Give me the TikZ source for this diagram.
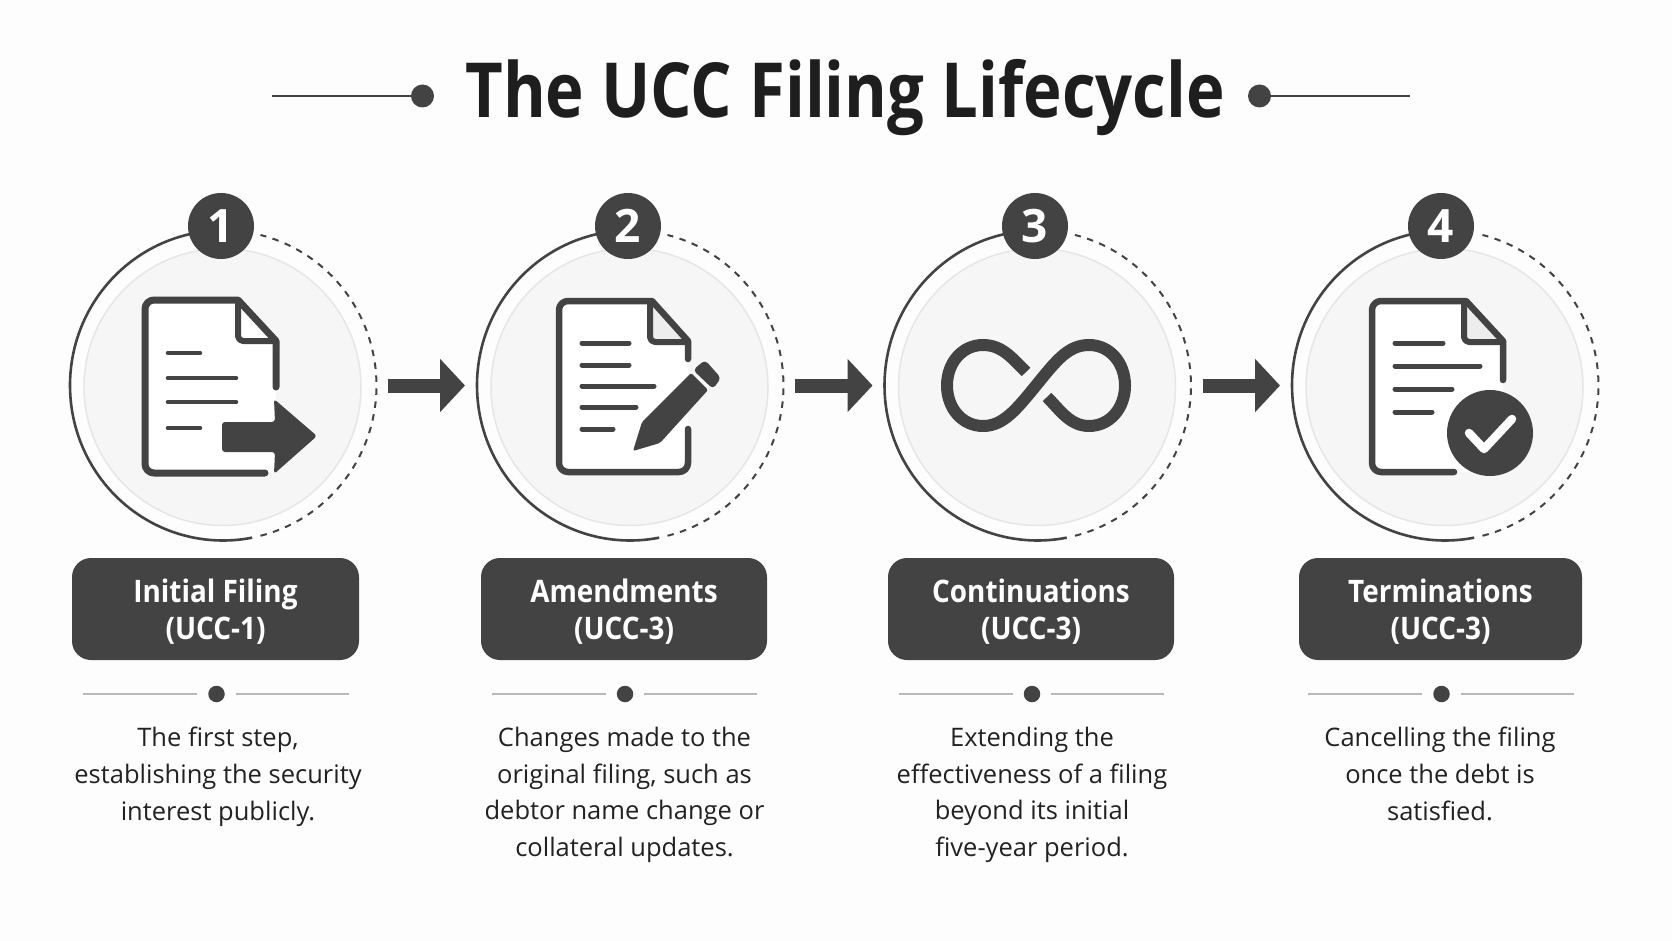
\documentclass[tikz,border=0pt]{standalone}
\usepackage{fontspec}
\setmainfont{Open Sans}
\newfontfamily\titlefont[FakeStretch=0.858]{Open Sans}
\newfontfamily\headfont[FakeStretch=0.9]{Open Sans}
\usepackage{tikz}
\usetikzlibrary{arrows.meta,shapes.geometric}
\definecolor{inkdark}{HTML}{434343}
\definecolor{inktitle}{HTML}{1E1E1E}
\definecolor{inkbody}{HTML}{222222}
\definecolor{pagebg}{HTML}{FDFDFD}
\definecolor{discfill}{HTML}{F6F6F6}
\definecolor{discedge}{HTML}{E6E6E6}
\definecolor{foldfill}{HTML}{EDEDED}
\definecolor{rulegray}{HTML}{B8B8B8}
\tikzstyle{ringnode}=[ellipse,inner sep=0pt,outer sep=0pt,minimum width=306pt,minimum height=310pt]
\tikzstyle{disc}=[circle,fill=discfill,draw=discedge,line width=1.5pt,inner sep=0pt,minimum size=277pt]
\tikzstyle{badge}=[circle,fill=inkdark,text=white,inner sep=0pt,minimum size=66pt,font=\fontsize{46}{46}\selectfont\bfseries]
\tikzstyle{labelbox}=[rectangle,rounded corners=19pt,fill=inkdark,inner sep=0pt,minimum height=102pt]
\tikzstyle{labeltext}=[text=white,align=center,inner sep=0pt,font=\fontsize{31}{37}\selectfont\headfont\bfseries]
\tikzstyle{descr}=[anchor=north,align=center,inner sep=0pt,text=inkbody,font=\fontsize{25.5}{36.7}\selectfont]
\tikzstyle{ruledot}=[circle,fill=inkdark,inner sep=0pt,minimum size=16.5pt]
\tikzstyle{titledot}=[circle,fill=inkdark,inner sep=0pt,minimum size=23pt]
\tikzstyle{solidarc}=[draw=inkdark,line width=2.6pt]
\tikzstyle{dashedarc}=[draw=inkdark,line width=2pt,dash pattern=on 6.5pt off 6.5pt]
\tikzstyle{edge}=[draw=inkdark,line width=14pt,-{Triangle[length=25pt,width=52pt]},shorten <=12pt,shorten >=12pt]
\tikzstyle{rule}=[draw=rulegray,line width=1.8pt,shorten <=11pt]
\tikzstyle{docline}=[draw=inkdark,line width=6.5pt,line cap=round,line join=round]
\tikzstyle{textline}=[draw=inkdark,line width=4.6pt,line cap=round]
\begin{document}
\begin{tikzpicture}[x=1pt,y=-1pt]
    \path[use as bounding box,fill=pagebg] (0,0) rectangle (1672,941);

    % Title with its two side rules
    \node[inner sep=0pt,text=inktitle,font=\fontsize{76}{76}\selectfont\titlefont\bfseries] (title) at (845,97.5) {The UCC Filing Lifecycle};
    \node[titledot] (tdotL) at (422.5,96) {};
    \node[titledot] (tdotR) at (1259.5,96) {};
    \coordinate (tendL) at (272,96);
    \coordinate (tendR) at (1410,96);
    \draw[draw=inkdark,line width=2pt] (tdotL) -- (tendL);
    \draw[draw=inkdark,line width=2pt] (tdotR) -- (tendR);

    % First the rings, discs and number badges
    \foreach \cx/\bx/\name/\num in {{223/221/a/1}, {630/628/b/2}, {1037.5/1035/c/3}, {1445/1441/d/4}} {
        \node[ringnode] (ring\name) at (\cx,385.5) {};
        \node[disc] (disc\name) at (\cx-0.5,387) {};
        \draw[solidarc] (ring\name.north) arc[start angle=-90,end angle=-281,x radius=153,y radius=155];
        \draw[dashedarc] (ring\name.-76) arc[start angle=76,end angle=-76,x radius=153,y radius=155];
        \node[badge] (badge\name) at (\bx,226) {\num};
    }

    % Connect the rings
    \foreach \source/\dest in {a/b, b/c, c/d}
        \path[edge] (ring\source) -- (ring\dest);

    % Label boxes, small rules and the texts below them
    \foreach \tx/\dx/\boxw/\name/\head/\body in {
        {215.5/218/287/a/{Initial Filing\\(UCC-1)}/{The first step,\\establishing the security\\interest publicly.}},
        {624/624.5/286/b/{Amendments\\(UCC-3)}/{Changes made to the\\original filing, such as\\debtor name change or\\collateral updates.}},
        {1031/1032/286/c/{Continuations\\(UCC-3)}/{Extending the\\effectiveness of a filing\\beyond its initial\\five-year period.}},
        {1440.5/1440/283/d/{Terminations\\(UCC-3)}/{Cancelling the filing\\once the debt is\\satisfied.}}} {
        \node[labelbox,minimum width=\boxw pt] (box\name) at (\tx,609) {};
        \node[labeltext] (head\name) at (\tx,612) {\head};
        \node[ruledot] (rdot\name) at (\tx+1,694) {};
        \coordinate (rendL\name) at (\tx-132.5,694);
        \coordinate (rendR\name) at (\tx+133,694);
        \path[rule] (rdot\name) -- (rendL\name);
        \path[rule] (rdot\name) -- (rendR\name);
        \node[descr] (text\name) at (\dx,727) {\body};
    }

    % Icon 1: page with arrow
    \fill[white] (145,300) -- (238,300) -- (276,341) -- (276,473) -- (145,473) -- cycle;
    \draw[docline,line width=7pt] (276,387) -- (276,341) -- (238,300) [rounded corners=9pt] -- (145,300) -- (145,473) [sharp corners] -- (265,473);
    \draw[docline,line width=6pt,rounded corners=5pt] (238,302) -- (238,341) -- (276,341);
    \foreach \ly/\lx in {353/200, 378/236, 402/236, 428/200}
        \draw[textline] (168,\ly) -- (\lx,\ly);
    \fill[inkdark,rounded corners=3pt] (222,422) -- (275,422) -- (274,399) -- (317,436) -- (274,474) -- (275,452) -- (222,452) -- cycle;

    % Icon 2: page with pencil
    \fill[white] (559,301) -- (650,301) -- (688,341) -- (688,472) -- (559,472) -- cycle;
    \fill[foldfill] (650,305) -- (650,342) -- (684,342) -- cycle;
    \draw[docline] (688,359) -- (688,341) -- (652,301) [rounded corners=9pt] -- (559,301) -- (559,472) -- (688,472) [sharp corners] -- (688,429);
    \draw[docline,line width=6pt,rounded corners=5pt] (650,303) -- (650,342) -- (688,342);
    \foreach \ly/\lx in {343/629, 365/629, 386/654, 407/636, 429/613}
        \draw[textline,line width=5pt] (582,\ly) -- (\lx,\ly);
    \fill[inkdark,rounded corners=2pt] (633,451) -- (642,422) -- (691,373) -- (708,390) -- (660,443) -- cycle;
    \fill[inkdark,rounded corners=4pt] (693,370) -- (705,360) -- (721,378) -- (713,389) -- cycle;

    % Icon 3: infinity loop
    \draw[draw=inkdark,line width=12pt] (1026,372) .. controls (1012,358) and (1002,345) .. (983,345)
        .. controls (962,345) and (947,363) .. (947,385.5) .. controls (947,408) and (962,426) .. (983,426)
        .. controls (1003,426) and (1016,410) .. (1036,385.5) .. controls (1056,361) and (1068,345) .. (1089,345)
        .. controls (1110,345) and (1125,363) .. (1125,385.5) .. controls (1125,408) and (1110,426) .. (1089,426)
        .. controls (1070,426) and (1060,410) .. (1047,397);

    % Icon 4: page with check
    \fill[white] (1372,301) -- (1466,301) -- (1503,341) -- (1503,472) -- (1372,472) -- cycle;
    \fill[foldfill] (1465,305) -- (1465,342) -- (1499,342) -- cycle;
    \draw[docline] (1503,380) -- (1503,341) -- (1466,301) [rounded corners=9pt] -- (1372,301) -- (1372,472) [sharp corners] -- (1454,472);
    \draw[docline,line width=6pt,rounded corners=5pt] (1464,303) -- (1464,342) -- (1503,342);
    \foreach \ly/\lx in {343/1443, 366/1480, 389/1452, 412/1432}
        \draw[textline,line width=5pt] (1395,\ly) -- (\lx,\ly);
    \node[circle,fill=inkdark,inner sep=0pt,minimum size=86pt] (checkdisc) at (1490,433) {};
    \draw[draw=white,line width=8.5pt,line cap=round,line join=round] (1469,433) -- (1484,449) -- (1512,419);
\end{tikzpicture}
\end{document}
